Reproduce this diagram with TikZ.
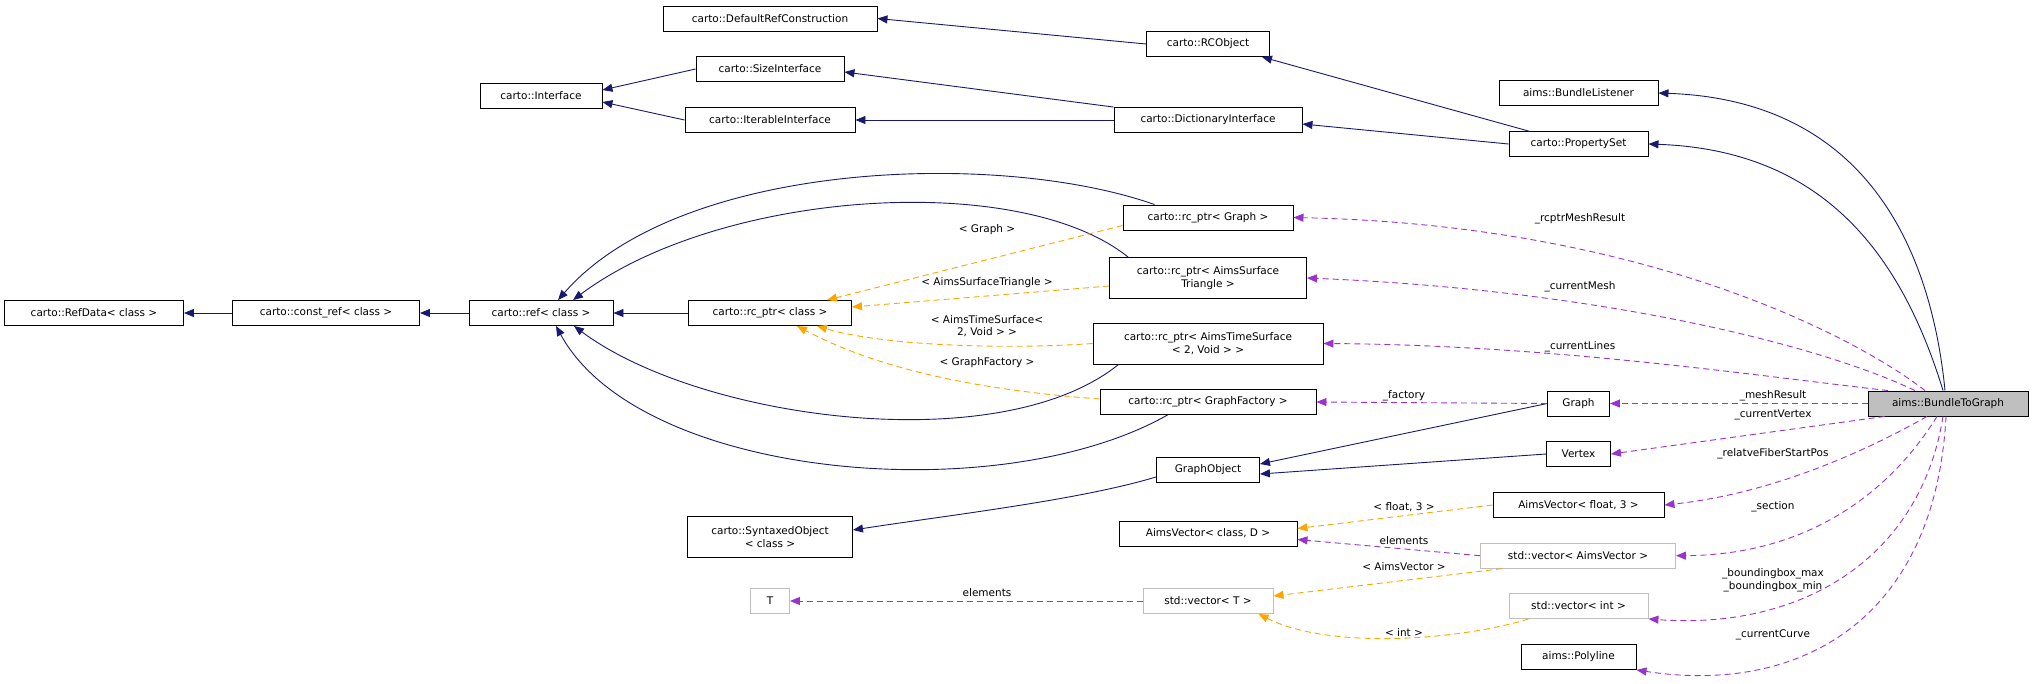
\documentclass[tikz,border=0pt]{standalone}
\usepackage{fontspec}
\setmainfont{DejaVu Sans}
\usetikzlibrary{arrows.meta,calc}
\definecolor{inhc}{HTML}{191970}
\definecolor{usec}{HTML}{9A32CD}
\definecolor{tplc}{HTML}{FFA500}
\begin{document}
\begin{tikzpicture}[x=1pt,y=-1pt,
  every node/.style={font=\fontsize{10.5}{12.5}\selectfont},
  box/.style={draw=black,line width=0.9pt,minimum height=25pt,inner sep=2pt,align=center,fill=white},
  gbox/.style={box,draw=black!25},
  tall/.style={minimum height=41pt},
  inh/.style={draw=inhc,line width=0.9pt,-{Triangle[length=10pt,width=8pt]}},
  use/.style={draw=usec,line width=0.9pt,dash pattern=on 6pt off 4pt,-{Triangle[length=10pt,width=8pt]}},
  tpl/.style={draw=tplc,line width=0.9pt,dash pattern=on 6pt off 4pt,-{Triangle[length=10pt,width=8pt]}},
  lbl/.style={inner sep=1pt}]
\useasboundingbox (0,0) rectangle (2033,683);
% nodes
\node[box,minimum width=214pt] (DRC) at (770,18.5) {carto::DefaultRefConstruction};
\node[box,minimum width=123pt] (RCO) at (1208,44) {carto::RCObject};
\node[box,minimum width=148pt] (SI) at (770,69) {carto::SizeInterface};
\node[box,minimum width=122pt] (IF) at (541,96) {carto::Interface};
\node[box,minimum width=170pt] (II) at (770,120) {carto::IterableInterface};
\node[box,minimum width=188pt] (DI) at (1208,120) {carto::DictionaryInterface};
\node[box,minimum width=159pt] (BL) at (1578.5,93) {aims::BundleListener};
\node[box,minimum width=139pt] (PS) at (1578.5,144) {carto::PropertySet};
\node[box,minimum width=170pt] (RPG) at (1208,217.5) {carto::rc\_ptr< Graph >};
\node[box,tall,minimum width=197pt] (RPS) at (1208,278) {carto::rc\_ptr< AimsSurface\\Triangle >};
\node[box,minimum width=179pt] (RD) at (94,313) {carto::RefData< class >};
\node[box,minimum width=187pt] (CR) at (326,313) {carto::const\_ref< class >};
\node[box,minimum width=144pt] (REF) at (541,313) {carto::ref< class >};
\node[box,minimum width=163pt] (RPC) at (770,313) {carto::rc\_ptr< class >};
\node[box,tall,minimum width=230pt] (RPT) at (1208,343.5) {carto::rc\_ptr< AimsTimeSurface\\< 2, Void > >};
\node[box,minimum width=216pt] (RPF) at (1208,402) {carto::rc\_ptr< GraphFactory >};
\node[box,minimum width=62pt] (G) at (1578.5,403.5) {Graph};
\node[box,minimum width=160pt,fill=black!25] (BTG) at (1948,403.5) {aims::BundleToGraph};
\node[box,minimum width=64pt] (V) at (1578.5,454) {Vertex};
\node[box,minimum width=103pt] (GO) at (1208,470) {GraphObject};
\node[box,minimum width=171pt] (AVF) at (1578.5,505) {AimsVector< float, 3 >};
\node[box,minimum width=178pt] (AVC) at (1208,533.5) {AimsVector< class, D >};
\node[box,tall,minimum width=165pt] (SO) at (770,537) {carto::SyntaxedObject\\< class >};
\node[gbox,minimum width=195pt] (SVA) at (1578,555.7) {std::vector< AimsVector >};
\node[gbox,minimum width=39pt] (T) at (770,601) {T};
\node[gbox,minimum width=130pt] (SVT) at (1208,601) {std::vector< T >};
\node[gbox,minimum width=139pt] (SVI) at (1578.5,606) {std::vector< int >};
\node[box,minimum width=115pt] (PL) at (1578.5,657) {aims::Polyline};
% inheritance
\draw[inh] (RCO.west) -- (DRC.east);
\draw[inh] ($(PS.north west)+(20,0)$) -- ($(RCO.south east)+(-8,0)$);
\draw[inh] (PS.west) -- ($(DI.east)+(0,4)$);
\draw[inh] (DI.north west) -- ($(SI.east)+(0,3)$);
\draw[inh] (DI) -- (II);
\draw[inh] (SI.west) -- ($(IF.east)+(0,-6)$);
\draw[inh] (II.west) -- ($(IF.east)+(0,6)$);
\draw[inh] (CR) -- (RD);
\draw[inh] (REF) -- (CR);
\draw[inh] (RPC) -- (REF);
\draw[inh] ($(BTG.north)+(-3,0)$) .. controls (1930,240) and (1860,100) .. (BL.east);
\draw[inh] ($(BTG.north)+(-5,0)$) .. controls (1900,250) and (1820,150) .. (PS.east);
\draw[inh] ($(RPG.north west)+(32,0)$) .. controls (1000,150) and (680,160) .. ($(REF.north)+(17,0)$);
\draw[inh] ($(RPS.north west)+(19,0)$) .. controls (1020,170) and (720,190) .. ($(REF.north)+(32,0)$);
\draw[inh] ($(RPT.south west)+(26,0)$) .. controls (1000,460) and (700,420) .. ($(REF.south)+(33,0)$);
\draw[inh] ($(RPF.south west)+(68,0)$) .. controls (1000,510) and (640,480) .. ($(REF.south)+(15,0)$);
\draw[inh] (G.west) -- ($(GO.east)+(0,-6)$);
\draw[inh] (V.west) -- ($(GO.east)+(0,4)$);
\draw[inh] ($(GO.south west)+(0,-6)$) .. controls (1080,500) and (950,515) .. ($(SO.east)+(0,-7)$);
% templates
\draw[tpl] ($(RPG.west)+(0,8)$) -- ($(RPC.north east)+(-25,0)$);
\node[lbl] (l1) at (987,230) {< Graph >};
\draw[tpl] ($(RPS.west)+(0,8)$) -- ($(RPC.east)+(0,-6)$);
\node[lbl] (l2) at (987,283) {< AimsSurfaceTriangle >};
\draw[tpl] (RPT.west) .. controls (1000,350) and (880,345) .. ($(RPC.south east)+(-35,0)$);
\node[lbl,align=center] (l3) at (987,326) {< AimsTimeSurface<\\2, Void > >};
\draw[tpl] ($(RPF.west)+(0,-3)$) .. controls (980,390) and (880,370) .. ($(RPC.south east)+(-55,0)$);
\node[lbl] (l4) at (987,363) {< GraphFactory >};
\draw[tpl] (AVF.west) -- ($(AVC.east)+(0,-5)$);
\node[lbl] (l5) at (1404,507) {< float, 3 >};
\draw[tpl] ($(SVA.south west)+(22,0)$) -- ($(SVT.east)+(0,-5)$);
\node[lbl] (l6) at (1404,567) {< AimsVector >};
\draw[tpl] ($(SVI.south west)+(20,0)$) .. controls (1460,640) and (1330,650) .. ($(SVT.south east)+(-15,0)$);
\node[lbl] (l7) at (1404,632) {< int >};
% members
\draw[use] ($(BTG.north)+(-23,0)$) .. controls (1860,340) and (1650,225) .. (RPG.east);
\node[lbl] (m1) at (1580,219) {\_rcptrMeshResult};
\draw[use] ($(BTG.north)+(-33,0)$) .. controls (1820,345) and (1600,290) .. (RPS.east);
\node[lbl] (m2) at (1580,287) {\_currentMesh};
\draw[use] ($(BTG.north)+(-60,0)$) .. controls (1750,375) and (1550,345) .. (RPT.east);
\node[lbl] (m3) at (1580,347) {\_currentLines};
\draw[use] (BTG.west) -- (G.east);
\node[lbl] (m4) at (1773,395.5) {\_meshResult};
\draw[use] ($(BTG.south west)+(17,0)$) -- (V.east);
\node[lbl] (m5) at (1773,415) {\_currentVertex};
\draw[use] ($(BTG.south)+(-21,0)$) .. controls (1850,460) and (1760,495) .. (AVF.east);
\node[lbl] (m6) at (1773,454) {\_relatveFiberStartPos};
\draw[use] ($(BTG.south)+(-11,0)$) .. controls (1885,500) and (1800,555) .. (SVA.east);
\node[lbl] (m7) at (1773,507) {\_section};
\draw[use] ($(BTG.south)+(-5,0)$) .. controls (1920,560) and (1800,630) .. (SVI.south east);
\node[lbl,align=center] (m8) at (1773,580) {\_boundingbox\_max\\\_boundingbox\_min};
\draw[use] ($(BTG.south)+(-2,0)$) .. controls (1935,620) and (1800,695) .. (PL.south east);
\node[lbl] (m9) at (1773,634.5) {\_currentCurve};
\draw[use] (G.west) -- (RPF.east);
\node[lbl] (m10) at (1404,396) {\_factory};
\draw[use] (SVA.west) -- ($(AVC.east)+(0,6)$);
\node[lbl] (m11) at (1404,541) {elements};
\draw[use] (SVT.west) -- (T.east);
\node[lbl] (m12) at (987,593) {elements};
\end{tikzpicture}
\end{document}
